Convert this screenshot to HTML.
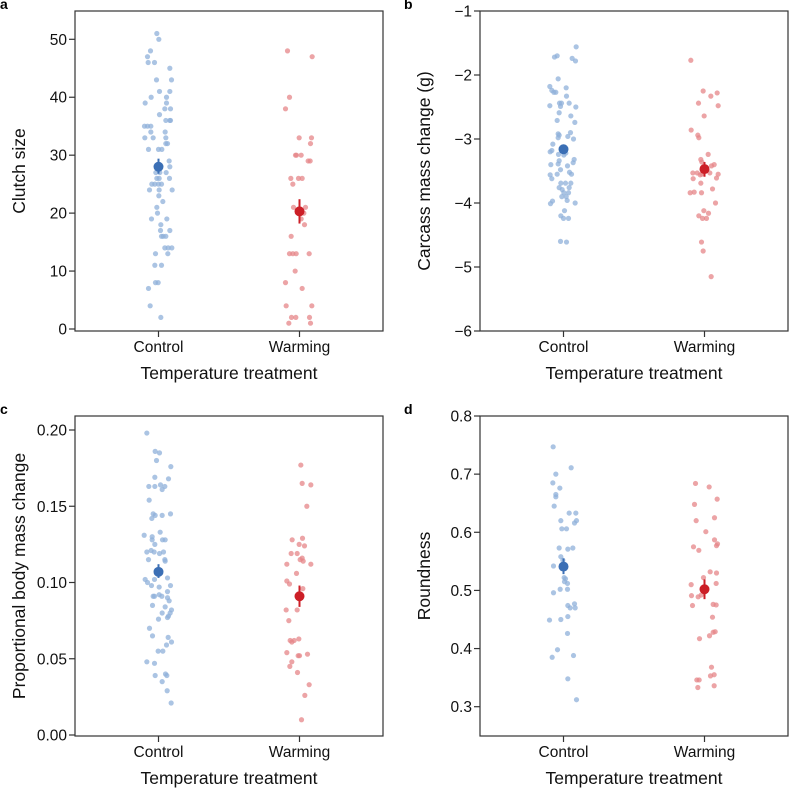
<!DOCTYPE html>
<html><head><meta charset="utf-8">
<style>
html,body{margin:0;padding:0;background:#fff;}
svg{display:block;font-family:"Liberation Sans",Arial,sans-serif;}
</style></head>
<body>
<svg id="fig" width="789" height="788" viewBox="0 0 789 788" xmlns="http://www.w3.org/2000/svg"></svg>
<script>
// ---------- Data ----------
const categories = ["Control", "Warming"];
// Panel a: clutch size
const aCtrlVals = [51,50,48,47,46,46,45,43,43,41,41,40,40,39,39,38,38,37,36,36,36,35,35,35,34,34,33,33,33,32,32,31,31,31,29,28,27,27,27,26,26,26,25,25,25,25,24,24,24,23,22,21,20,19,19,18,17,17,16,16,16,14,14,14,13,13,11,11,8,8,7,4,2];
const aCtrlJit  = [-5,1,-24,-33,-31,-12,34,-6,39,3,34,-22,24,-40,24,19,36,3,22,34,36,-42,-33,-23,-23,20,-41,-16,22,22,27,-30,0,10,32,34,-8,4,23,-5,2,33,-20,-11,0,9,-27,2,41,1,13,-5,-3,-21,25,7,6,34,9,14,22,19,29,40,-9,28,-11,9,-9,-1,-30,-25,7];
const aWarmVals = [48,47,40,38,33,33,32,30,30,30,29,29,26,26,26,25,21,21,20,19,18,16,13,13,13,13,10,8,7,4,4,2,2,2,1,1];
const aWarmJit  = [-36,38,-30,-42,-1,36,33,-12,-9,5,26,32,-26,-3,8,-20,-18,18,13,5,15,-25,-30,-20,-10,29,-13,-42,8,-40,37,-24,-11,30,-32,33];
const aMeans = [28.0, 20.3];
const aErrLo = [26.8, 18.2];
const aErrHi = [29.4, 22.4];
const aTicks = [0,10,20,30,40,50];

// Panel b: carcass mass change
const bCtrlVals = [-1.56,-1.72,-1.70,-1.74,-1.78,-2.06,-2.18,-2.24,-2.27,-2.27,-2.20,-2.33,-2.44,-2.44,-2.44,-2.49,-2.48,-2.50,-2.59,-2.64,-2.71,-2.74,-2.92,-2.94,-2.90,-2.96,-2.98,-3.00,-3.08,-3.18,-3.20,-3.24,-3.25,-3.22,-3.32,-3.34,-3.37,-3.40,-3.39,-3.42,-3.48,-3.52,-3.56,-3.55,-3.55,-3.62,-3.69,-3.69,-3.69,-3.76,-3.76,-3.79,-3.84,-3.84,-3.90,-3.90,-3.96,-3.97,-4.01,-4.00,-4.12,-4.20,-4.24,-4.24,-4.60,-4.61];
const bCtrlJit  = [38,-27,-19,26,36,-16,-41,-35,-29,-23,8,9,-12,-6,17,-9,-41,37,-13,22,-19,34,-16,-13,21,13,-16,30,-32,-35,-40,-15,1,7,32,-13,29,-38,-16,12,-9,18,-40,-19,24,-35,-8,6,22,-13,17,-4,1,15,-5,8,11,-33,-39,35,3,-8,0,15,-9,9];
const bWarmVals = [-1.77,-2.25,-2.28,-2.33,-2.44,-2.48,-2.64,-2.86,-2.94,-2.98,-3.24,-3.32,-3.36,-3.40,-3.42,-3.53,-3.53,-3.53,-3.55,-3.56,-3.55,-3.61,-3.62,-3.69,-3.78,-3.84,-3.83,-3.84,-4.00,-4.12,-4.16,-4.20,-4.24,-4.24,-4.61,-4.75,-5.15];
const bWarmJit  = [-41,-4,38,19,-18,41,-1,-40,-20,-17,11,-11,-8,29,21,-35,-22,16,41,-13,-8,36,-34,-11,24,-43,-31,-9,33,-2,12,-17,-6,6,-9,-4,20];
const bMeans = [-3.16, -3.47];
const bErrLo = [-3.22, -3.59];
const bErrHi = [-3.10, -3.36];
const bTicks = [-6,-5,-4,-3,-2,-1];

// Panel c: proportional body mass change
const cCtrlVals = [.198,.186,.185,.180,.176,.169,.168,.163,.163,.164,.163,.161,.154,.142,.145,.144,.144,.145,.133,.131,.130,.128,.128,.128,.125,.120,.121,.120,.119,.120,.115,.115,.114,.102,.100,.098,.102,.103,.098,.097,.091,.091,.092,.091,.094,.090,.088,.085,.084,.082,.080,.080,.078,.077,.076,.070,.065,.064,.061,.059,.055,.055,.048,.047,.039,.040,.039,.035,.029,.021];
const cCtrlJit  = [-35,-10,3,-6,37,-11,30,-29,-11,6,19,11,-28,-20,-16,-10,11,36,5,-43,-19,-19,12,20,-11,-35,-22,-13,3,15,-30,19,20,-40,-33,-21,-12,27,36,2,-16,-12,2,10,27,27,32,-18,20,39,11,35,30,27,0,-27,-18,29,39,24,-1,13,-35,-12,-10,21,25,11,26,38];
const cWarmVals = [.177,.165,.164,.150,.128,.129,.125,.124,.119,.119,.116,.115,.114,.112,.112,.106,.101,.099,.096,.082,.082,.075,.062,.061,.062,.063,.052,.052,.053,.054,.048,.045,.041,.033,.026,.010];
const cWarmJit  = [4,8,34,22,-22,9,-1,15,-25,-7,8,2,11,-38,34,-9,-38,-30,10,-40,-7,-32,-28,-23,-16,-2,-4,0,24,-38,-23,-29,-6,29,16,6];
const cMeans = [0.107, 0.091];
const cErrLo = [0.103, 0.084];
const cErrHi = [0.112, 0.098];
const cTicks = [0.00,0.05,0.10,0.15,0.20];

// Panel d: roundness
const dCtrlVals = [.747,.711,.700,.685,.676,.665,.661,.645,.633,.633,.620,.620,.616,.606,.606,.573,.571,.573,.558,.542,.552,.522,.520,.515,.512,.502,.502,.496,.474,.477,.470,.470,.455,.449,.450,.426,.398,.388,.385,.348,.312];
const dCtrlJit  = [-31,23,-23,-32,-11,-23,-23,-28,17,37,-8,39,33,-5,9,-13,13,28,-8,-30,-2,2,6,3,12,-10,12,-30,13,33,20,35,13,-42,-8,12,-18,30,-34,13,39];
const dWarmVals = [.684,.678,.648,.657,.620,.625,.601,.587,.580,.577,.575,.569,.532,.530,.522,.510,.512,.491,.489,.492,.474,.476,.475,.454,.429,.428,.422,.417,.368,.355,.353,.346,.346,.333,.336];
const dWarmJit  = [-27,14,-30,38,-25,30,4,30,39,36,-33,-17,17,36,-3,-40,35,-39,-19,-10,-36,26,35,24,32,26,15,-15,21,29,18,-23,-16,-20,29];
const dMeans = [0.541, 0.502];
const dErrLo = [0.528, 0.485];
const dErrHi = [0.555, 0.519];
const dTicks = [0.3,0.4,0.5,0.6,0.7,0.8];

// ---------- Drawing ----------
const NS = "http://www.w3.org/2000/svg";
const svg = document.getElementById("fig");
function mk(tag, attrs, parent) {
  const e = document.createElementNS(NS, tag);
  for (const k in attrs) e.setAttribute(k, attrs[k]);
  (parent || svg).appendChild(e);
  return e;
}
const JIT_UNIT = 1 / 423; // jitter units in fraction of category spacing

function panel(p) {
  const g = mk("g", {});
  
  
  const L = p.left, T = p.top, R = p.left + 308, B = p.top + 320;
  const y = v => p.y0px + (v - p.y0) * (p.y1px - p.y0px) / (p.y1 - p.y0);
  const spacing = 141;
  const cx = i => (L + R) / 2 + (i - 0.5) * spacing;
  const xj = (i, j) => cx(i) + j * JIT_UNIT * spacing;

  const lt = mk("text", {x: p.letterX, y: p.top - 2, "font-size": 14, "font-weight": "bold", fill: "#000"}, g);
  lt.textContent = p.letter;
  
  

  const box = mk("rect", {x: L, y: T, width: R - L, height: B - T, fill: "none", stroke: "#333", "stroke-width": 1.2}, g);
  
  

  p.ticks.forEach(t => {
    const ty = y(t);
    const tk = mk("line", {x1: L - 6, x2: L, y1: ty, y2: ty, stroke: "#333", "stroke-width": 1.2}, g);
    
    
    const tl = mk("text", {x: L - 8, y: ty + 5.5, "text-anchor": "end", "font-size": 15.5, fill: "#111"}, g);
    tl.textContent = p.fmt(t);
    
    
  });
  categories.forEach((c, i) => {
    const tk = mk("line", {x1: cx(i), x2: cx(i), y1: B, y2: B + 6, stroke: "#333", "stroke-width": 1.2}, g);
    
    
    const tl = mk("text", {x: cx(i), y: B + 21, "text-anchor": "middle", "font-size": 15.5, fill: "#111"}, g);
    tl.textContent = c;
    
    
  });
  const xt = mk("text", {x: (L + R) / 2, y: B + 48, "text-anchor": "middle", "font-size": 17.5, fill: "#111"}, g);
  xt.textContent = "Temperature treatment";
  
  
  const yc = (T + B) / 2;
  const yt = mk("text", {x: p.titleX, y: yc, "text-anchor": "middle", "font-size": 17.5, fill: "#111", transform: `rotate(-90 ${p.titleX} ${yc})`}, g);
  yt.textContent = p.ytitle;
  
  

  const cols = [["#8fb0da", "#3b6fb5"], ["#e68588", "#cc1f27"]];
  [[p.cv, p.cj], [p.wv, p.wj]].forEach((s, i) => {
    s[0].forEach((v, k) => {
      const c = mk("circle", {cx: xj(i, s[1][k]), cy: y(v), r: 2.6, fill: cols[i][0], "fill-opacity": 0.75}, g);
      
      
    });
  });
  p.means.forEach((m, i) => {
    const eb = mk("line", {x1: cx(i), x2: cx(i), y1: y(p.lo[i]), y2: y(p.hi[i]), stroke: cols[i][1], "stroke-width": 2}, g);
    
    
    const mc = mk("circle", {cx: cx(i), cy: y(m), r: 5, fill: cols[i][1]}, g);
    
    
  });
}

panel({letter: "a", letterX: 0, left: 75, top: 11, titleX: 25, ytitle: "Clutch size",
  y0: 0, y1: 50, y0px: 329, y1px: 39.3, ticks: aTicks, fmt: t => String(t),
  cv: aCtrlVals, cj: aCtrlJit, wv: aWarmVals, wj: aWarmJit, means: aMeans, lo: aErrLo, hi: aErrHi});
panel({letter: "b", letterX: 404, left: 480, top: 11, titleX: 430, ytitle: "Carcass mass change (g)",
  y0: -6, y1: -1, y0px: 331, y1px: 11, ticks: bTicks, fmt: t => t < 0 ? "\u2212" + Math.abs(t) : String(t),
  cv: bCtrlVals, cj: bCtrlJit, wv: bWarmVals, wj: bWarmJit, means: bMeans, lo: bErrLo, hi: bErrHi});
panel({letter: "c", letterX: 0, left: 75, top: 416, titleX: 25, ytitle: "Proportional body mass change",
  y0: 0, y1: 0.2, y0px: 735, y1px: 430, ticks: cTicks, fmt: t => t.toFixed(2),
  cv: cCtrlVals, cj: cCtrlJit, wv: cWarmVals, wj: cWarmJit, means: cMeans, lo: cErrLo, hi: cErrHi});
panel({letter: "d", letterX: 404, left: 480, top: 416, titleX: 430, ytitle: "Roundness",
  y0: 0.3, y1: 0.8, y0px: 706.7, y1px: 416, ticks: dTicks, fmt: t => t.toFixed(1),
  cv: dCtrlVals, cj: dCtrlJit, wv: dWarmVals, wj: dWarmJit, means: dMeans, lo: dErrLo, hi: dErrHi});
</script>
</body></html>
